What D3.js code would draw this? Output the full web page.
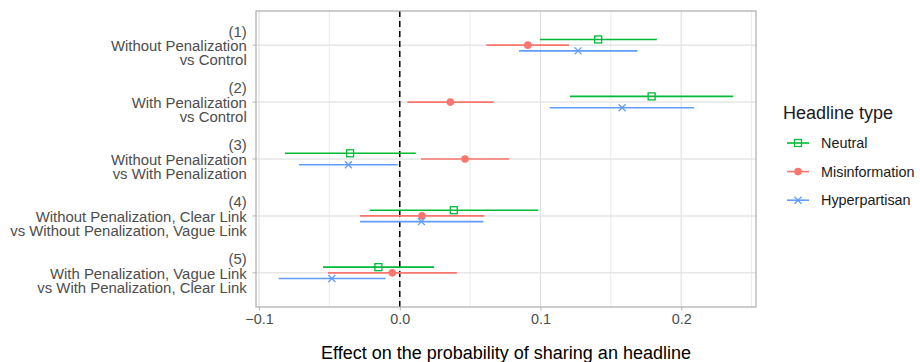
<!DOCTYPE html>
<html>
<head>
<meta charset="utf-8">
<script src="https://d3js.org/d3.v7.min.js"></script>
<style>
  body { margin: 0; background: #fff; }
  text { font-family: "Liberation Sans", Arial, sans-serif; }
</style>
</head>
<body>
<div id="chart"></div>
<script>
// comparisons (top to bottom), each label split in lines
var comparisons = [
  ["(1)", "Without Penalization", "vs Control"],
  ["(2)", "With Penalization", "vs Control"],
  ["(3)", "Without Penalization", "vs With Penalization"],
  ["(4)", "Without Penalization, Clear Link", "vs Without Penalization, Vague Link"],
  ["(5)", "With Penalization, Vague Link", "vs With Penalization, Clear Link"]
];
var headlineTypes = ["Neutral", "Misinformation", "Hyperpartisan"];

// estimates and confidence intervals per headline type, in comparison order
var neutralEst = [0.141, 0.179, -0.0353, 0.0384, -0.0152];
var neutralLo  = [0.0997, 0.121, -0.0815, -0.0213, -0.0545];
var neutralHi  = [0.1827, 0.237, 0.0114, 0.0985, 0.0244];

var misinfoEst = [0.091, 0.036, 0.0464, 0.0158, -0.0053];
var misinfoLo  = [0.0616, 0.0054, 0.0151, -0.0282, -0.051];
var misinfoHi  = [0.1203, 0.0668, 0.0777, 0.0601, 0.0405];

var hyperEst = [0.1267, 0.158, -0.0365, 0.0154, -0.0483];
var hyperLo  = [0.0848, 0.1066, -0.0716, -0.0282, -0.086];
var hyperHi  = [0.1689, 0.2092, -0.0014, 0.0594, -0.01];

var xTicks = [-0.1, 0.0, 0.1, 0.2];
var xMinor = [-0.05, 0.05, 0.15, 0.25];

var colors = {"Neutral": "#00BA38", "Misinformation": "#F8766D", "Hyperpartisan": "#619CFF"};
var offsets = {"Neutral": -0.1, "Misinformation": 0, "Hyperpartisan": 0.1};

var series = [
  {type: "Neutral", est: neutralEst, lo: neutralLo, hi: neutralHi},
  {type: "Misinformation", est: misinfoEst, lo: misinfoLo, hi: misinfoHi},
  {type: "Hyperpartisan", est: hyperEst, lo: hyperLo, hi: hyperHi}
];

var rows = [];
series.forEach(function(s) {
  s.est.forEach(function(v, i) {
    rows.push({type: s.type, idx: i, est: v, lo: s.lo[i], hi: s.hi[i]});
  });
});

var W = 920, H = 362;
var margin = {top: 11, right: 164, bottom: 55, left: 256};
var width = W - margin.left - margin.right,
    height = H - margin.top - margin.bottom;

var svg = d3.select("#chart").append("svg")
    .attr("width", W).attr("height", H);
var g = svg.append("g")
    .attr("transform", "translate(" + margin.left + "," + margin.top + ")");

// x scale with ggplot-like expansion
var allVals = rows.map(function(d) { return d.lo; }).concat(rows.map(function(d) { return d.hi; }));
var xmin = d3.min(allVals), xmax = d3.max(allVals), pad = (xmax - xmin) * 0.05;
var x = d3.scaleLinear().domain([xmin - pad, xmax + pad]).range([0, width]);

// y: continuous position index, expansion 0.6 on each side
var y = d3.scaleLinear().domain([-0.6, comparisons.length - 1 + 0.6]).range([0, height]);

// grid
g.selectAll(".minor").data(xMinor).enter().append("line")
  .attr("x1", function(d) { return x(d); }).attr("x2", function(d) { return x(d); })
  .attr("y1", 0).attr("y2", height)
  .attr("stroke", "#ebebeb").attr("stroke-width", 1);
g.selectAll(".major").data(xTicks).enter().append("line")
  .attr("x1", function(d) { return x(d); }).attr("x2", function(d) { return x(d); })
  .attr("y1", 0).attr("y2", height)
  .attr("stroke", "#dedede").attr("stroke-width", 1.1);
g.selectAll(".hmajor").data(comparisons).enter().append("line")
  .attr("x1", 0).attr("x2", width)
  .attr("y1", function(d, i) { return y(i); }).attr("y2", function(d, i) { return y(i); })
  .attr("stroke", "#e6e6e6").attr("stroke-width", 1.5);

// reference line at 0
g.append("line")
  .attr("x1", x(0)).attr("x2", x(0)).attr("y1", 0).attr("y2", height)
  .attr("stroke", "#000").attr("stroke-width", 1.5)
  .attr("stroke-dasharray", "6,4");

// error bars
g.selectAll(".ci").data(rows).enter().append("line")
  .attr("x1", function(d) { return x(d.lo); })
  .attr("x2", function(d) { return x(d.hi); })
  .attr("y1", function(d) { return y(d.idx + offsets[d.type]); })
  .attr("y2", function(d) { return y(d.idx + offsets[d.type]); })
  .attr("stroke", function(d) { return colors[d.type]; })
  .attr("stroke-width", 1.6);

function drawSymbol(sel, type, cx, cy) {
  var c = colors[type];
  if (type === "Neutral") {
    sel.append("rect").attr("x", cx - 3.5).attr("y", cy - 3.5)
      .attr("width", 7).attr("height", 7)
      .attr("fill", "none").attr("stroke", c).attr("stroke-width", 1.3);
  } else if (type === "Misinformation") {
    sel.append("circle").attr("cx", cx).attr("cy", cy).attr("r", 3.8).attr("fill", c);
  } else {
    sel.append("path")
      .attr("d", "M" + (cx - 3.5) + "," + (cy - 3.5) + "L" + (cx + 3.5) + "," + (cy + 3.5) +
                 "M" + (cx - 3.5) + "," + (cy + 3.5) + "L" + (cx + 3.5) + "," + (cy - 3.5))
      .attr("stroke", c).attr("stroke-width", 1.3).attr("fill", "none");
  }
}

rows.forEach(function(d) {
  drawSymbol(g, d.type, x(d.est), y(d.idx + offsets[d.type]));
});

// panel border
g.append("rect").attr("x", 0).attr("y", 0).attr("width", width).attr("height", height)
  .attr("fill", "none").attr("stroke", "#b3b3b3").attr("stroke-width", 1.3);

// x axis
var xAxis = g.append("g").attr("transform", "translate(0," + height + ")")
  .call(d3.axisBottom(x).tickValues(xTicks).tickSize(3.5).tickPadding(3.5)
    .tickFormat(function(d) { return d === 0 ? "0.0" : d3.format(".1f")(d).replace("-", "\u2212"); }));
xAxis.select(".domain").remove();
xAxis.selectAll(".tick line").attr("stroke", "#b3b3b3");
xAxis.selectAll(".tick text").attr("fill", "#4d4d4d").style("font-size", "14.4px")
  .style("font-family", "'Liberation Sans', Arial, sans-serif");

// y ticks and labels
var yl = g.selectAll(".ylab").data(comparisons).enter().append("g")
  .attr("transform", function(d, i) { return "translate(0," + y(i) + ")"; });
yl.append("line").attr("x1", -3.5).attr("x2", 0).attr("stroke", "#b3b3b3");
yl.append("text")
  .attr("text-anchor", "end").attr("fill", "#4d4d4d").style("font-size", "14.9px")
  .selectAll("tspan").data(function(d) { return d; }).enter().append("tspan")
  .attr("x", -9.3)
  .attr("y", function(d, i) { return (i - 1) * 14.3; })
  .attr("dy", "0.38em")
  .text(function(d) { return d; });

// x title
svg.append("text")
  .attr("x", margin.left + width / 2).attr("y", 358.5)
  .attr("text-anchor", "middle").style("font-size", "18px").attr("fill", "#000")
  .text("Effect on the probability of sharing an headline");

// legend
var lg = svg.append("g").attr("transform", "translate(783,0)");
lg.append("text").attr("x", 0).attr("y", 118.5).style("font-size", "18px").attr("fill", "#1a1a1a")
  .text("Headline type");
headlineTypes.forEach(function(t, i) {
  var cy = 143 + i * 28.6;
  lg.append("line").attr("x1", 4).attr("x2", 26).attr("y1", cy).attr("y2", cy)
    .attr("stroke", colors[t]).attr("stroke-width", 1.6);
  drawSymbol(lg, t, 15, cy);
  lg.append("text").attr("x", 38).attr("y", cy).attr("dy", "0.36em")
    .style("font-size", "14.4px").attr("fill", "#1a1a1a").text(t);
});
</script>
</body>
</html>
